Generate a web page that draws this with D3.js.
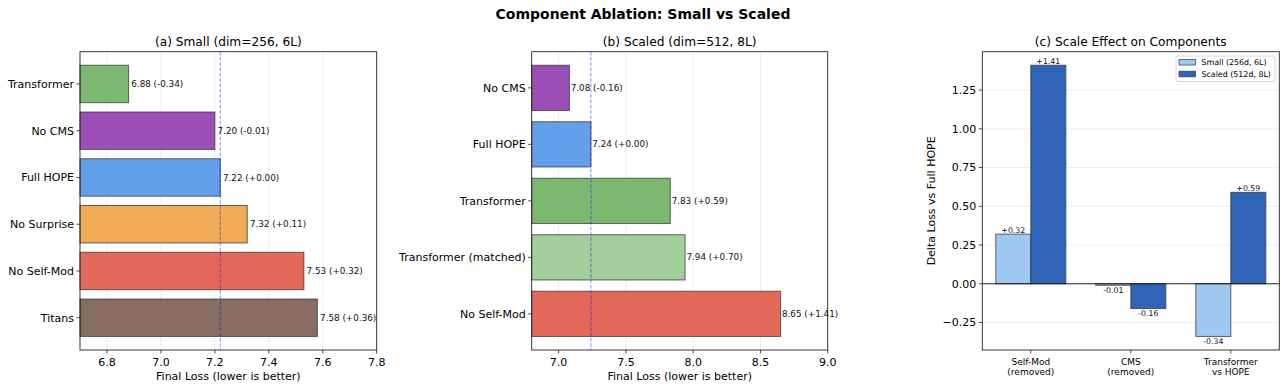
<!DOCTYPE html>
<html><head><meta charset="utf-8">
<script src="https://cdn.jsdelivr.net/npm/d3@7"></script>
<style>body{margin:0;background:#fff}svg{display:block;font-family:"DejaVu Sans",sans-serif}</style>
</head><body><svg id="c" width="1286" height="390"></svg>
<script>
// ---- data ----
const smallNames = ["Transformer","No CMS","Full HOPE","No Surprise","No Self-Mod","Titans"];
const smallLoss  = [6.88, 7.20, 7.22, 7.32, 7.53, 7.58];
const smallDelta = ["-0.34","-0.01","+0.00","+0.11","+0.32","+0.36"];
const smallColors = ["#7db871","#9c4fb6","#62a1ea","#f1aa55","#e4695b","#876d62"];
const smallTicks = [6.8, 7.0, 7.2, 7.4, 7.6, 7.8];
const smallRef = 7.22;

const scaledNames = ["No CMS","Full HOPE","Transformer","Transformer (matched)","No Self-Mod"];
const scaledLoss  = [7.08, 7.24, 7.83, 7.94, 8.65];
const scaledDelta = ["-0.16","+0.00","+0.59","+0.70","+1.41"];
const scaledColors = ["#9c4fb6","#62a1ea","#7db871","#a2cf9b","#e4695b"];
const scaledTicks = [7.0, 7.5, 8.0, 8.5, 9.0];
const scaledRef = 7.24;

const compNames = [["Self-Mod","(removed)"],["CMS","(removed)"],["Transformer","vs HOPE"]];
const compSmall  = [0.32, -0.01, -0.34];
const compScaled = [1.41, -0.16, 0.59];
const compTicks  = [-0.25, 0, 0.25, 0.5, 0.75, 1.0, 1.25];
const legendLabels = ["Small (256d, 6L)","Scaled (512d, 8L)"];
const compColors = ["#9dc8f2","#3064b9"];

// ---- layout ----
const svg = d3.select("#c");
const TOP = 51.7, BOT = 350;
const axisCol = "#222";
const FS = 11, TFS = 12.2;

svg.append("text").attr("x",643).attr("y",19).attr("text-anchor","middle")
  .attr("font-size",14).attr("font-weight","bold").text("Component Ablation: Small vs Scaled");

function hbarPanel(x0, x1, names, vals, deltas, colors, ticks, xdom, ref, title, fmt){
  const g = svg.append("g");
  const n = names.length;
  const ext = (n-1) + 0.8, m = 0.05*ext;
  const y = d3.scaleLinear().domain([-0.4-m, n-1+0.4+m]).range([TOP, BOT]);
  const x = d3.scaleLinear().domain(xdom).range([x0, x1]);
  const bh = y(0.8)-y(0);
  // grid
  g.selectAll(".gr").data(ticks).join("line").attr("x1",d=>x(d)).attr("x2",d=>x(d))
    .attr("y1",TOP).attr("y2",BOT).attr("stroke","#b0b0b0").attr("stroke-opacity",0.3).attr("stroke-width",0.8);
  // bars
  g.selectAll(".bar").data(vals).join("rect")
    .attr("x",x(xdom[0])).attr("y",(d,i)=>y(i)-bh/2).attr("width",d=>x(d)-x(xdom[0])).attr("height",bh)
    .attr("fill",(d,i)=>colors[i]).attr("stroke","#333").attr("stroke-opacity",0.75).attr("stroke-width",1);
  // ref line
  g.append("line").attr("x1",x(ref)).attr("x2",x(ref)).attr("y1",TOP).attr("y2",BOT)
    .attr("stroke","#0000ff").attr("stroke-opacity",0.45).attr("stroke-width",1).attr("stroke-dasharray","3.7,1.6");
  // value labels
  g.selectAll(".vl").data(vals).join("text").attr("x",d=>x(d+0.01)).attr("y",(d,i)=>y(i)).attr("dy","0.35em")
    .attr("font-size",8.8).attr("fill","#111").text((d,i)=>d.toFixed(2)+" ("+deltas[i]+")");
  // axes frame
  g.append("rect").attr("x",x0).attr("y",TOP).attr("width",x1-x0).attr("height",BOT-TOP)
    .attr("fill","none").attr("stroke",axisCol).attr("stroke-width",0.9);
  // x ticks
  const xt = g.selectAll(".xt").data(ticks).join("g").attr("transform",d=>`translate(${x(d)},${BOT})`);
  xt.append("line").attr("y2",3.5).attr("stroke",axisCol).attr("stroke-width",0.8);
  xt.append("text").attr("y",16.2).attr("text-anchor","middle").attr("font-size",FS).text(d=>d3.format(fmt)(d));
  // y ticks
  const yt = g.selectAll(".yt").data(names).join("g").attr("transform",(d,i)=>`translate(${x0},${y(i)})`);
  yt.append("line").attr("x2",-3.5).attr("stroke",axisCol).attr("stroke-width",0.8);
  yt.append("text").attr("x",-6).attr("dy","0.35em").attr("text-anchor","end").attr("font-size",FS).text(d=>d);
  // labels
  g.append("text").attr("x",(x0+x1)/2).attr("y",379.5).attr("text-anchor","middle").attr("font-size",FS)
    .text("Final Loss (lower is better)");
  g.append("text").attr("x",(x0+x1)/2).attr("y",45.5).attr("text-anchor","middle").attr("font-size",TFS).text(title);
}

hbarPanel(80, 376.7, smallNames, smallLoss, smallDelta, smallColors, smallTicks, [6.7, 7.8], smallRef,
  "(a) Small (dim=256, 6L)", ".1f");
hbarPanel(531.7, 827.7, scaledNames, scaledLoss, scaledDelta, scaledColors, scaledTicks, [6.8, 9.0], scaledRef,
  "(b) Scaled (dim=512, 8L)", ".1f");

// ---- panel c ----
(function(){
  const x0 = 982.3, x1 = 1279.3;
  const g = svg.append("g");
  const allV = compSmall.concat(compScaled);
  const lo = Math.min(0, d3.min(allV)), hi = d3.max(allV), mg = 0.05*(hi-lo);
  const y = d3.scaleLinear().domain([lo-mg, hi+mg]).range([BOT, TOP]);
  const n = compNames.length, w = 0.35;
  const xm = 0.05*((n-1)+2*w);
  const x = d3.scaleLinear().domain([-w-xm, n-1+w+xm]).range([x0, x1]);
  // grid
  g.selectAll(".gr").data(compTicks).join("line").attr("x1",x0).attr("x2",x1).attr("y1",d=>y(d)).attr("y2",d=>y(d))
    .attr("stroke","#b0b0b0").attr("stroke-opacity",0.3).attr("stroke-width",0.8);
  const series = [compSmall, compScaled];
  series.forEach((vals, s)=>{
    const off = s===0 ? -w/2 : w/2;
    g.selectAll(".b"+s).data(vals).join("rect")
      .attr("x",(d,i)=>x(i+off-w/2)).attr("width",x(w)-x(0))
      .attr("y",d=>y(Math.max(0,d))).attr("height",d=>Math.abs(y(d)-y(0)))
      .attr("fill",compColors[s]).attr("stroke","#333").attr("stroke-opacity",0.75).attr("stroke-width",1);
    g.selectAll(".l"+s).data(vals).join("text")
      .attr("x",(d,i)=>x(i+off)).attr("y",d=>d>=0 ? y(d)-1.5 : y(d)+7.5)
      .attr("text-anchor","middle").attr("font-size",7.8).attr("fill","#111")
      .text(d=>(d>=0?"+":"")+d.toFixed(2));
  });
  // zero line
  g.append("line").attr("x1",x0).attr("x2",x1).attr("y1",y(0)).attr("y2",y(0)).attr("stroke","#111").attr("stroke-width",0.9);
  // frame
  g.append("rect").attr("x",x0).attr("y",TOP).attr("width",x1-x0).attr("height",BOT-TOP)
    .attr("fill","none").attr("stroke",axisCol).attr("stroke-width",0.9);
  // y ticks
  const yt = g.selectAll(".yt").data(compTicks).join("g").attr("transform",d=>`translate(${x0},${y(d)})`);
  yt.append("line").attr("x2",-3.5).attr("stroke",axisCol).attr("stroke-width",0.8);
  yt.append("text").attr("x",-6).attr("dy","0.35em").attr("text-anchor","end").attr("font-size",FS)
    .text(d=>d3.format(".2f")(d).replace("-","\u2212"));
  // x ticks
  const xt = g.selectAll(".xt").data(compNames).join("g").attr("transform",(d,i)=>`translate(${x(i)},${BOT})`);
  xt.append("line").attr("y2",3.5).attr("stroke",axisCol).attr("stroke-width",0.8);
  xt.each(function(d){
    const t = d3.select(this);
    d.forEach((ln,k)=>t.append("text").attr("y",14.5+k*10.2).attr("text-anchor","middle").attr("font-size",9).text(ln));
  });
  // y label
  g.append("text").attr("transform",`translate(935,${(TOP+BOT)/2}) rotate(-90)`).attr("text-anchor","middle")
    .attr("font-size",FS).text("Delta Loss vs Full HOPE");
  g.append("text").attr("x",(x0+x1)/2).attr("y",45.5).attr("text-anchor","middle").attr("font-size",TFS)
    .text("(c) Scale Effect on Components");
  // legend
  const lg = g.append("g");
  lg.append("rect").attr("x",1176).attr("y",56).attr("width",99).attr("height",25.5).attr("rx",2)
    .attr("fill","#fff").attr("fill-opacity",0.8).attr("stroke","#ccc").attr("stroke-width",0.8);
  legendLabels.forEach((lab,k)=>{
    const cy = 62.3 + k*11.7;
    lg.append("rect").attr("x",1179).attr("y",cy-2.8).attr("width",16.5).attr("height",5.6)
      .attr("fill",compColors[k]).attr("stroke","#333").attr("stroke-opacity",0.75).attr("stroke-width",0.9);
    lg.append("text").attr("x",1201.5).attr("y",cy).attr("dy","0.35em").attr("font-size",7.9).text(lab);
  });
})();
</script></body></html>
